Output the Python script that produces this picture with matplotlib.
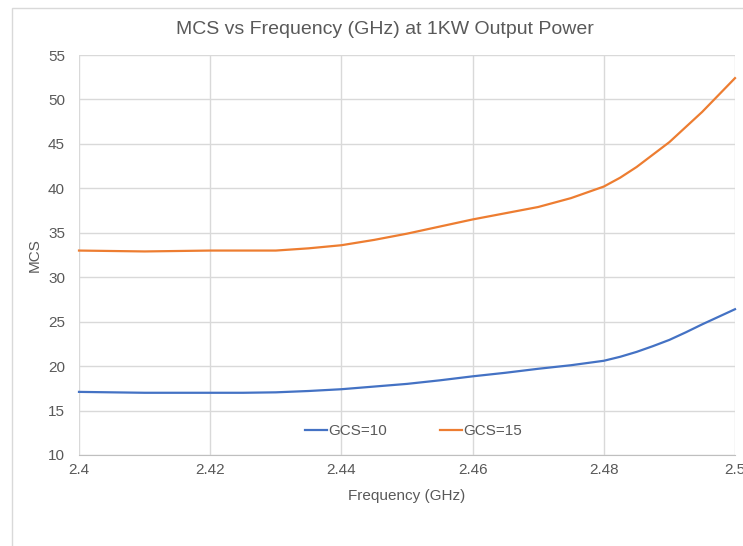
import numpy as np
import matplotlib.pyplot as plt
from matplotlib.patches import Rectangle

plt.rcParams['font.family'] = ['Liberation Sans', 'DejaVu Sans']

# data
freq = [2.400, 2.405, 2.410, 2.415, 2.420, 2.425, 2.430, 2.435, 2.440, 2.445,
        2.450, 2.455, 2.460, 2.465, 2.470, 2.475, 2.480, 2.4825, 2.485, 2.4875,
        2.490, 2.4925, 2.495, 2.4975, 2.500]
gcs10 = [17.1, 17.05, 17.0, 17.0, 17.0, 17.0, 17.05, 17.2, 17.4, 17.7,
         18.0, 18.4, 18.85, 19.25, 19.7, 20.1, 20.6, 21.05, 21.6, 22.25,
         22.95, 23.8, 24.7, 25.55, 26.4]
gcs15 = [33.0, 32.95, 32.9, 32.95, 33.0, 33.0, 33.0, 33.25, 33.6, 34.2,
         34.9, 35.7, 36.5, 37.2, 37.9, 38.9, 40.2, 41.2, 42.4, 43.8,
         45.2, 46.9, 48.6, 50.5, 52.4]
xticks = [2.4, 2.42, 2.44, 2.46, 2.48, 2.5]
yticks = [10, 15, 20, 25, 30, 35, 40, 45, 50, 55]

txt = '#595959'
grid = '#d9d9d9'

fig = plt.figure(figsize=(7.43, 5.46), dpi=100)
ax = fig.add_axes([79/743, 91/546, 656/743, 400/546])

# chart frame (cropped at right/bottom)
fig.patches.append(Rectangle((12/743, -0.1), 1.0, (546-8)/546 + 0.1, transform=fig.transFigure,
                             fill=False, edgecolor=grid, lw=1.0))

ax.plot(freq, gcs10, color='#4472C4', lw=1.6, label='GCS=10', clip_on=False, zorder=3)
ax.plot(freq, gcs15, color='#ED7D31', lw=1.6, label='GCS=15', clip_on=False, zorder=3)

ax.set_xlim(2.4, 2.5)
ax.set_ylim(10, 55)
ax.set_xticks(xticks)
ax.set_xticklabels(['%g' % t for t in xticks])
ax.set_yticks(yticks)
ax.grid(True, color=grid, lw=1.0)
ax.set_axisbelow(True)
for s in ['top', 'right', 'left']:
    ax.spines[s].set_visible(False)
ax.spines['bottom'].set_color('#bfbfbf')
ax.tick_params(length=0, labelsize=11, colors=txt, pad=6)
ax.tick_params(axis='y', pad=10)

ax.set_xlabel('Frequency (GHz)', fontsize=11, color=txt)
ax.xaxis.set_label_coords(0.5, -0.084)
ax.set_ylabel('MCS', fontsize=11, color=txt)
ax.yaxis.set_label_coords(-0.057, 0.5)
fig.text(385/743, 1 - 29/546, 'MCS vs Frequency (GHz) at 1KW Output Power',
         fontsize=14, color=txt, ha='center', va='center')

leg = ax.legend(loc='center', bbox_to_anchor=(0.51, 0.06), ncol=2, frameon=False,
                fontsize=11, handlelength=1.4, handletextpad=0.1, columnspacing=3.5,
                labelcolor=txt)

fig.savefig('out.png', dpi=100)
